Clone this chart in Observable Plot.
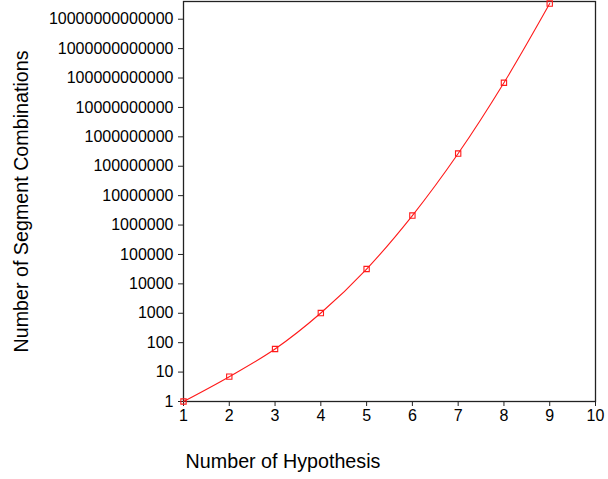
<!DOCTYPE html>
<html>
<head>
<meta charset="utf-8">
<script src="https://cdn.jsdelivr.net/npm/d3@7"></script>
<script src="https://cdn.jsdelivr.net/npm/@observablehq/plot@0.6"></script>
<style>
  html, body { margin: 0; padding: 0; background: #fff; }
  svg { display: block; }
</style>
</head>
<body>
<div id="chart"></div>
<script>
const hypotheses = [1, 2, 3, 4, 5, 6, 7, 8, 9];
const combinations = [1, 7, 61, 1020, 32000, 2.1e6, 2.7e8, 6.9e10, 3.4e13];
const yTicks = [1, 10, 100, 1000, 1e4, 1e5, 1e6, 1e7, 1e8, 1e9, 1e10, 1e11, 1e12, 1e13];
const yTickLabels = ["1", "10", "100", "1000", "10000", "100000", "1000000", "10000000",
  "100000000", "1000000000", "10000000000", "100000000000", "1000000000000", "10000000000000"];
const xTicks = [1, 2, 3, 4, 5, 6, 7, 8, 9, 10];
const xTitle = "Number of Hypothesis";
const yTitle = "Number of Segment Combinations";

const data = hypotheses.map((h, i) => ({h, c: combinations[i]}));
const labelOf = new Map(yTicks.map((t, i) => [t, yTickLabels[i]]));

const axisColor = "#222";
const red = "#ff1a1a";

const chart = Plot.plot({
  width: 608,
  height: 479,
  marginLeft: 183,
  marginRight: 13,
  marginTop: 1,
  marginBottom: 78,
  style: {fontFamily: "'Liberation Sans', Arial, sans-serif", fontSize: "16px", color: "#000", background: "#fff"},
  x: {domain: [1, 10], axis: null},
  y: {type: "log", domain: [1, 4e13], axis: null},
  marks: [
    Plot.frame({stroke: axisColor, strokeWidth: 1.3}),
    Plot.axisX(xTicks, {tickSize: 5, tickPadding: 3, stroke: axisColor, label: null, tickFormat: d => String(d)}),
    Plot.axisY(yTicks, {tickSize: 5, tickPadding: 5, stroke: axisColor, label: null, tickFormat: d => labelOf.get(d)}),
    Plot.line(data, {x: "h", y: "c", stroke: red, strokeWidth: 1.1, curve: "catmull-rom"}),
    Plot.dot(data, {x: "h", y: "c", symbol: "square", r: 3, stroke: red, strokeWidth: 1.1, fill: "none"}),
    Plot.text([xTitle], {frameAnchor: "bottom-left", textAnchor: "middle", dx: 99.5, dy: 66, fontSize: 19.7, fill: "#000"}),
    Plot.text([yTitle], {frameAnchor: "left", textAnchor: "middle", dx: -162, rotate: -90, fontSize: 19.7, fill: "#000"})
  ]
});
document.getElementById("chart").appendChild(chart);
</script>
</body>
</html>
